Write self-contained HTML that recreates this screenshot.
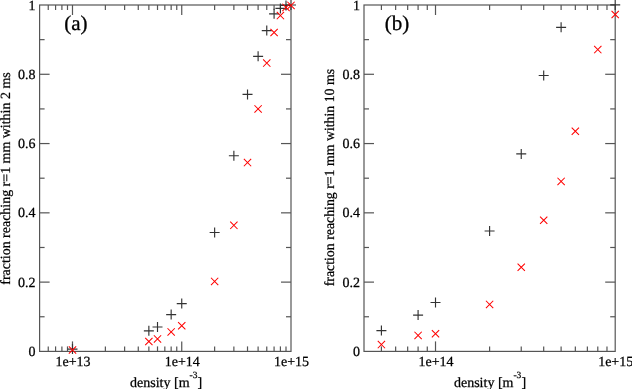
<!DOCTYPE html>
<html><head><meta charset="utf-8"><style>
html,body{margin:0;padding:0;background:#fff;width:632px;height:389px;overflow:hidden}
svg{display:block;will-change:transform;filter:blur(0.3px)}
text{text-rendering:geometricPrecision}
.t{font-family:"Liberation Serif",serif;font-size:14px;fill:#000;stroke:#000;stroke-width:0.25px}
.lab{font-family:"Liberation Serif",serif;font-size:21px;fill:#000;stroke:#000;stroke-width:0.3px}
</style></head><body>
<svg width="632" height="389" viewBox="0 0 632 389">
<rect width="632" height="389" fill="#fff"/>
<rect x="39.6" y="5.0" width="251.40" height="346.40" fill="none" stroke="#555" stroke-width="1.2"/>
<line x1="48.25" y1="351.40" x2="48.25" y2="346.40" stroke="#555" stroke-width="1.2"/>
<line x1="48.25" y1="5.00" x2="48.25" y2="10.00" stroke="#555" stroke-width="1.2"/>
<line x1="55.57" y1="351.40" x2="55.57" y2="346.40" stroke="#555" stroke-width="1.2"/>
<line x1="55.57" y1="5.00" x2="55.57" y2="10.00" stroke="#555" stroke-width="1.2"/>
<line x1="61.90" y1="351.40" x2="61.90" y2="346.40" stroke="#555" stroke-width="1.2"/>
<line x1="61.90" y1="5.00" x2="61.90" y2="10.00" stroke="#555" stroke-width="1.2"/>
<line x1="67.49" y1="351.40" x2="67.49" y2="346.40" stroke="#555" stroke-width="1.2"/>
<line x1="67.49" y1="5.00" x2="67.49" y2="10.00" stroke="#555" stroke-width="1.2"/>
<line x1="72.49" y1="351.40" x2="72.49" y2="341.40" stroke="#555" stroke-width="1.2"/>
<line x1="72.49" y1="5.00" x2="72.49" y2="15.00" stroke="#555" stroke-width="1.2"/>
<line x1="105.38" y1="351.40" x2="105.38" y2="346.40" stroke="#555" stroke-width="1.2"/>
<line x1="105.38" y1="5.00" x2="105.38" y2="10.00" stroke="#555" stroke-width="1.2"/>
<line x1="124.62" y1="351.40" x2="124.62" y2="346.40" stroke="#555" stroke-width="1.2"/>
<line x1="124.62" y1="5.00" x2="124.62" y2="10.00" stroke="#555" stroke-width="1.2"/>
<line x1="138.27" y1="351.40" x2="138.27" y2="346.40" stroke="#555" stroke-width="1.2"/>
<line x1="138.27" y1="5.00" x2="138.27" y2="10.00" stroke="#555" stroke-width="1.2"/>
<line x1="148.86" y1="351.40" x2="148.86" y2="346.40" stroke="#555" stroke-width="1.2"/>
<line x1="148.86" y1="5.00" x2="148.86" y2="10.00" stroke="#555" stroke-width="1.2"/>
<line x1="157.51" y1="351.40" x2="157.51" y2="346.40" stroke="#555" stroke-width="1.2"/>
<line x1="157.51" y1="5.00" x2="157.51" y2="10.00" stroke="#555" stroke-width="1.2"/>
<line x1="164.82" y1="351.40" x2="164.82" y2="346.40" stroke="#555" stroke-width="1.2"/>
<line x1="164.82" y1="5.00" x2="164.82" y2="10.00" stroke="#555" stroke-width="1.2"/>
<line x1="171.16" y1="351.40" x2="171.16" y2="346.40" stroke="#555" stroke-width="1.2"/>
<line x1="171.16" y1="5.00" x2="171.16" y2="10.00" stroke="#555" stroke-width="1.2"/>
<line x1="176.75" y1="351.40" x2="176.75" y2="346.40" stroke="#555" stroke-width="1.2"/>
<line x1="176.75" y1="5.00" x2="176.75" y2="10.00" stroke="#555" stroke-width="1.2"/>
<line x1="181.74" y1="351.40" x2="181.74" y2="341.40" stroke="#555" stroke-width="1.2"/>
<line x1="181.74" y1="5.00" x2="181.74" y2="15.00" stroke="#555" stroke-width="1.2"/>
<line x1="214.63" y1="351.40" x2="214.63" y2="346.40" stroke="#555" stroke-width="1.2"/>
<line x1="214.63" y1="5.00" x2="214.63" y2="10.00" stroke="#555" stroke-width="1.2"/>
<line x1="233.87" y1="351.40" x2="233.87" y2="346.40" stroke="#555" stroke-width="1.2"/>
<line x1="233.87" y1="5.00" x2="233.87" y2="10.00" stroke="#555" stroke-width="1.2"/>
<line x1="247.52" y1="351.40" x2="247.52" y2="346.40" stroke="#555" stroke-width="1.2"/>
<line x1="247.52" y1="5.00" x2="247.52" y2="10.00" stroke="#555" stroke-width="1.2"/>
<line x1="258.11" y1="351.40" x2="258.11" y2="346.40" stroke="#555" stroke-width="1.2"/>
<line x1="258.11" y1="5.00" x2="258.11" y2="10.00" stroke="#555" stroke-width="1.2"/>
<line x1="266.76" y1="351.40" x2="266.76" y2="346.40" stroke="#555" stroke-width="1.2"/>
<line x1="266.76" y1="5.00" x2="266.76" y2="10.00" stroke="#555" stroke-width="1.2"/>
<line x1="274.08" y1="351.40" x2="274.08" y2="346.40" stroke="#555" stroke-width="1.2"/>
<line x1="274.08" y1="5.00" x2="274.08" y2="10.00" stroke="#555" stroke-width="1.2"/>
<line x1="280.41" y1="351.40" x2="280.41" y2="346.40" stroke="#555" stroke-width="1.2"/>
<line x1="280.41" y1="5.00" x2="280.41" y2="10.00" stroke="#555" stroke-width="1.2"/>
<line x1="286.00" y1="351.40" x2="286.00" y2="346.40" stroke="#555" stroke-width="1.2"/>
<line x1="286.00" y1="5.00" x2="286.00" y2="10.00" stroke="#555" stroke-width="1.2"/>
<line x1="39.60" y1="316.76" x2="44.60" y2="316.76" stroke="#555" stroke-width="1.2"/>
<line x1="291.00" y1="316.76" x2="286.00" y2="316.76" stroke="#555" stroke-width="1.2"/>
<line x1="39.60" y1="282.12" x2="49.60" y2="282.12" stroke="#555" stroke-width="1.2"/>
<line x1="291.00" y1="282.12" x2="281.00" y2="282.12" stroke="#555" stroke-width="1.2"/>
<line x1="39.60" y1="247.48" x2="44.60" y2="247.48" stroke="#555" stroke-width="1.2"/>
<line x1="291.00" y1="247.48" x2="286.00" y2="247.48" stroke="#555" stroke-width="1.2"/>
<line x1="39.60" y1="212.84" x2="49.60" y2="212.84" stroke="#555" stroke-width="1.2"/>
<line x1="291.00" y1="212.84" x2="281.00" y2="212.84" stroke="#555" stroke-width="1.2"/>
<line x1="39.60" y1="178.20" x2="44.60" y2="178.20" stroke="#555" stroke-width="1.2"/>
<line x1="291.00" y1="178.20" x2="286.00" y2="178.20" stroke="#555" stroke-width="1.2"/>
<line x1="39.60" y1="143.56" x2="49.60" y2="143.56" stroke="#555" stroke-width="1.2"/>
<line x1="291.00" y1="143.56" x2="281.00" y2="143.56" stroke="#555" stroke-width="1.2"/>
<line x1="39.60" y1="108.92" x2="44.60" y2="108.92" stroke="#555" stroke-width="1.2"/>
<line x1="291.00" y1="108.92" x2="286.00" y2="108.92" stroke="#555" stroke-width="1.2"/>
<line x1="39.60" y1="74.28" x2="49.60" y2="74.28" stroke="#555" stroke-width="1.2"/>
<line x1="291.00" y1="74.28" x2="281.00" y2="74.28" stroke="#555" stroke-width="1.2"/>
<line x1="39.60" y1="39.64" x2="44.60" y2="39.64" stroke="#555" stroke-width="1.2"/>
<line x1="291.00" y1="39.64" x2="286.00" y2="39.64" stroke="#555" stroke-width="1.2"/>
<text x="35.60" y="355.90" text-anchor="end" class="t">0</text>
<text x="35.60" y="286.62" text-anchor="end" class="t">0.2</text>
<text x="35.60" y="217.34" text-anchor="end" class="t">0.4</text>
<text x="35.60" y="148.06" text-anchor="end" class="t">0.6</text>
<text x="35.60" y="78.78" text-anchor="end" class="t">0.8</text>
<text x="35.60" y="9.50" text-anchor="end" class="t">1</text>
<text x="72.99" y="365.90" text-anchor="middle" class="t">1e+13</text>
<text x="182.24" y="365.90" text-anchor="middle" class="t">1e+14</text>
<text x="291.50" y="365.90" text-anchor="middle" class="t">1e+15</text>
<text x="166.10" y="386.5" text-anchor="middle" class="t">density [m<tspan dy="-9" font-size="9.5">-3</tspan><tspan dy="9">]</tspan></text>
<text transform="translate(9.80,178.55) rotate(-90)" text-anchor="middle" textLength="212.4" lengthAdjust="spacingAndGlyphs" class="t">fraction reaching r=1 mm within 2 ms</text>
<text x="64.30" y="29.9" class="lab">(a)</text>
<rect x="364.0" y="5.0" width="251.20" height="346.40" fill="none" stroke="#555" stroke-width="1.2"/>
<line x1="381.41" y1="351.40" x2="381.41" y2="346.40" stroke="#555" stroke-width="1.2"/>
<line x1="381.41" y1="5.00" x2="381.41" y2="10.00" stroke="#555" stroke-width="1.2"/>
<line x1="395.64" y1="351.40" x2="395.64" y2="346.40" stroke="#555" stroke-width="1.2"/>
<line x1="395.64" y1="5.00" x2="395.64" y2="10.00" stroke="#555" stroke-width="1.2"/>
<line x1="407.67" y1="351.40" x2="407.67" y2="346.40" stroke="#555" stroke-width="1.2"/>
<line x1="407.67" y1="5.00" x2="407.67" y2="10.00" stroke="#555" stroke-width="1.2"/>
<line x1="418.09" y1="351.40" x2="418.09" y2="346.40" stroke="#555" stroke-width="1.2"/>
<line x1="418.09" y1="5.00" x2="418.09" y2="10.00" stroke="#555" stroke-width="1.2"/>
<line x1="427.28" y1="351.40" x2="427.28" y2="346.40" stroke="#555" stroke-width="1.2"/>
<line x1="427.28" y1="5.00" x2="427.28" y2="10.00" stroke="#555" stroke-width="1.2"/>
<line x1="435.51" y1="351.40" x2="435.51" y2="341.40" stroke="#555" stroke-width="1.2"/>
<line x1="435.51" y1="5.00" x2="435.51" y2="15.00" stroke="#555" stroke-width="1.2"/>
<line x1="489.60" y1="351.40" x2="489.60" y2="346.40" stroke="#555" stroke-width="1.2"/>
<line x1="489.60" y1="5.00" x2="489.60" y2="10.00" stroke="#555" stroke-width="1.2"/>
<line x1="521.24" y1="351.40" x2="521.24" y2="346.40" stroke="#555" stroke-width="1.2"/>
<line x1="521.24" y1="5.00" x2="521.24" y2="10.00" stroke="#555" stroke-width="1.2"/>
<line x1="543.69" y1="351.40" x2="543.69" y2="346.40" stroke="#555" stroke-width="1.2"/>
<line x1="543.69" y1="5.00" x2="543.69" y2="10.00" stroke="#555" stroke-width="1.2"/>
<line x1="561.11" y1="351.40" x2="561.11" y2="346.40" stroke="#555" stroke-width="1.2"/>
<line x1="561.11" y1="5.00" x2="561.11" y2="10.00" stroke="#555" stroke-width="1.2"/>
<line x1="575.34" y1="351.40" x2="575.34" y2="346.40" stroke="#555" stroke-width="1.2"/>
<line x1="575.34" y1="5.00" x2="575.34" y2="10.00" stroke="#555" stroke-width="1.2"/>
<line x1="587.37" y1="351.40" x2="587.37" y2="346.40" stroke="#555" stroke-width="1.2"/>
<line x1="587.37" y1="5.00" x2="587.37" y2="10.00" stroke="#555" stroke-width="1.2"/>
<line x1="597.79" y1="351.40" x2="597.79" y2="346.40" stroke="#555" stroke-width="1.2"/>
<line x1="597.79" y1="5.00" x2="597.79" y2="10.00" stroke="#555" stroke-width="1.2"/>
<line x1="606.98" y1="351.40" x2="606.98" y2="346.40" stroke="#555" stroke-width="1.2"/>
<line x1="606.98" y1="5.00" x2="606.98" y2="10.00" stroke="#555" stroke-width="1.2"/>
<line x1="364.00" y1="316.76" x2="369.00" y2="316.76" stroke="#555" stroke-width="1.2"/>
<line x1="615.20" y1="316.76" x2="610.20" y2="316.76" stroke="#555" stroke-width="1.2"/>
<line x1="364.00" y1="282.12" x2="374.00" y2="282.12" stroke="#555" stroke-width="1.2"/>
<line x1="615.20" y1="282.12" x2="605.20" y2="282.12" stroke="#555" stroke-width="1.2"/>
<line x1="364.00" y1="247.48" x2="369.00" y2="247.48" stroke="#555" stroke-width="1.2"/>
<line x1="615.20" y1="247.48" x2="610.20" y2="247.48" stroke="#555" stroke-width="1.2"/>
<line x1="364.00" y1="212.84" x2="374.00" y2="212.84" stroke="#555" stroke-width="1.2"/>
<line x1="615.20" y1="212.84" x2="605.20" y2="212.84" stroke="#555" stroke-width="1.2"/>
<line x1="364.00" y1="178.20" x2="369.00" y2="178.20" stroke="#555" stroke-width="1.2"/>
<line x1="615.20" y1="178.20" x2="610.20" y2="178.20" stroke="#555" stroke-width="1.2"/>
<line x1="364.00" y1="143.56" x2="374.00" y2="143.56" stroke="#555" stroke-width="1.2"/>
<line x1="615.20" y1="143.56" x2="605.20" y2="143.56" stroke="#555" stroke-width="1.2"/>
<line x1="364.00" y1="108.92" x2="369.00" y2="108.92" stroke="#555" stroke-width="1.2"/>
<line x1="615.20" y1="108.92" x2="610.20" y2="108.92" stroke="#555" stroke-width="1.2"/>
<line x1="364.00" y1="74.28" x2="374.00" y2="74.28" stroke="#555" stroke-width="1.2"/>
<line x1="615.20" y1="74.28" x2="605.20" y2="74.28" stroke="#555" stroke-width="1.2"/>
<line x1="364.00" y1="39.64" x2="369.00" y2="39.64" stroke="#555" stroke-width="1.2"/>
<line x1="615.20" y1="39.64" x2="610.20" y2="39.64" stroke="#555" stroke-width="1.2"/>
<text x="360.00" y="355.90" text-anchor="end" class="t">0</text>
<text x="360.00" y="286.62" text-anchor="end" class="t">0.2</text>
<text x="360.00" y="217.34" text-anchor="end" class="t">0.4</text>
<text x="360.00" y="148.06" text-anchor="end" class="t">0.6</text>
<text x="360.00" y="78.78" text-anchor="end" class="t">0.8</text>
<text x="360.00" y="9.50" text-anchor="end" class="t">1</text>
<text x="436.01" y="365.90" text-anchor="middle" class="t">1e+14</text>
<text x="615.70" y="365.90" text-anchor="middle" class="t">1e+15</text>
<text x="490.00" y="386.5" text-anchor="middle" class="t">density [m<tspan dy="-9" font-size="9.5">-3</tspan><tspan dy="9">]</tspan></text>
<text transform="translate(334.20,177.60) rotate(-90)" text-anchor="middle" textLength="217.4" lengthAdjust="spacingAndGlyphs" class="t">fraction reaching r=1 mm within 10 ms</text>
<text x="384.80" y="29.9" class="lab">(b)</text>
<path d="M143.86 330.80H153.86M148.86 325.80V335.80" stroke="#333" stroke-width="1.15" fill="none"/>
<path d="M152.51 327.00H162.51M157.51 322.00V332.00" stroke="#333" stroke-width="1.15" fill="none"/>
<path d="M166.16 314.60H176.16M171.16 309.60V319.60" stroke="#333" stroke-width="1.15" fill="none"/>
<path d="M176.74 303.60H186.74M181.74 298.60V308.60" stroke="#333" stroke-width="1.15" fill="none"/>
<path d="M209.63 232.50H219.63M214.63 227.50V237.50" stroke="#333" stroke-width="1.15" fill="none"/>
<path d="M228.87 155.70H238.87M233.87 150.70V160.70" stroke="#333" stroke-width="1.15" fill="none"/>
<path d="M242.52 94.40H252.52M247.52 89.40V99.40" stroke="#333" stroke-width="1.15" fill="none"/>
<path d="M253.11 56.30H263.11M258.11 51.30V61.30" stroke="#333" stroke-width="1.15" fill="none"/>
<path d="M261.76 30.60H271.76M266.76 25.60V35.60" stroke="#333" stroke-width="1.15" fill="none"/>
<path d="M269.08 13.80H279.08M274.08 8.80V18.80" stroke="#333" stroke-width="1.15" fill="none"/>
<path d="M275.41 8.40H285.41M280.41 3.40V13.40" stroke="#333" stroke-width="1.15" fill="none"/>
<path d="M281.00 5.40H291.00M286.00 0.40V10.40" stroke="#333" stroke-width="1.15" fill="none"/>
<path d="M286.00 5.00H296.00M291.00 0.00V10.00" stroke="#333" stroke-width="1.15" fill="none"/>
<path d="M67.49 349.10H77.49M72.49 344.10V354.10" stroke="#333" stroke-width="1.15" fill="none"/>
<path d="M376.41 330.60H386.41M381.41 325.60V335.60" stroke="#333" stroke-width="1.15" fill="none"/>
<path d="M413.09 315.10H423.09M418.09 310.10V320.10" stroke="#333" stroke-width="1.15" fill="none"/>
<path d="M430.51 302.50H440.51M435.51 297.50V307.50" stroke="#333" stroke-width="1.15" fill="none"/>
<path d="M484.60 231.00H494.60M489.60 226.00V236.00" stroke="#333" stroke-width="1.15" fill="none"/>
<path d="M516.24 153.90H526.24M521.24 148.90V158.90" stroke="#333" stroke-width="1.15" fill="none"/>
<path d="M538.69 75.50H548.69M543.69 70.50V80.50" stroke="#333" stroke-width="1.15" fill="none"/>
<path d="M556.11 27.35H566.11M561.11 22.35V32.35" stroke="#333" stroke-width="1.15" fill="none"/>
<path d="M610.20 4.90H620.20M615.20 -0.10V9.90" stroke="#333" stroke-width="1.15" fill="none"/>
<path d="M145.21 337.85L152.51 345.15M145.21 345.15L152.51 337.85" stroke="#ff0000" stroke-width="1.05" fill="none"/>
<path d="M153.86 335.25L161.16 342.55M153.86 342.55L161.16 335.25" stroke="#ff0000" stroke-width="1.05" fill="none"/>
<path d="M167.51 328.25L174.81 335.55M167.51 335.55L174.81 328.25" stroke="#ff0000" stroke-width="1.05" fill="none"/>
<path d="M178.09 322.05L185.39 329.35M178.09 329.35L185.39 322.05" stroke="#ff0000" stroke-width="1.05" fill="none"/>
<path d="M210.98 277.75L218.28 285.05M210.98 285.05L218.28 277.75" stroke="#ff0000" stroke-width="1.05" fill="none"/>
<path d="M230.22 221.70L237.52 229.00M230.22 229.00L237.52 221.70" stroke="#ff0000" stroke-width="1.05" fill="none"/>
<path d="M243.87 158.95L251.17 166.25M243.87 166.25L251.17 158.95" stroke="#ff0000" stroke-width="1.05" fill="none"/>
<path d="M254.46 105.25L261.76 112.55M254.46 112.55L261.76 105.25" stroke="#ff0000" stroke-width="1.05" fill="none"/>
<path d="M263.11 59.45L270.41 66.75M263.11 66.75L270.41 59.45" stroke="#ff0000" stroke-width="1.05" fill="none"/>
<path d="M270.43 28.85L277.73 36.15M270.43 36.15L277.73 28.85" stroke="#ff0000" stroke-width="1.05" fill="none"/>
<path d="M276.76 11.95L284.06 19.25M276.76 19.25L284.06 11.95" stroke="#ff0000" stroke-width="1.05" fill="none"/>
<path d="M282.35 3.75L289.65 11.05M282.35 11.05L289.65 3.75" stroke="#ff0000" stroke-width="1.05" fill="none"/>
<path d="M287.35 1.75L294.65 9.05M287.35 9.05L294.65 1.75" stroke="#ff0000" stroke-width="1.05" fill="none"/>
<path d="M68.84 346.35L76.14 353.65M68.84 353.65L76.14 346.35" stroke="#ff0000" stroke-width="1.05" fill="none"/>
<path d="M377.76 340.95L385.06 348.25M377.76 348.25L385.06 340.95" stroke="#ff0000" stroke-width="1.05" fill="none"/>
<path d="M414.44 331.75L421.74 339.05M414.44 339.05L421.74 331.75" stroke="#ff0000" stroke-width="1.05" fill="none"/>
<path d="M431.86 330.15L439.16 337.45M431.86 337.45L439.16 330.15" stroke="#ff0000" stroke-width="1.05" fill="none"/>
<path d="M485.95 300.75L493.25 308.05M485.95 308.05L493.25 300.75" stroke="#ff0000" stroke-width="1.05" fill="none"/>
<path d="M517.59 263.65L524.89 270.95M517.59 270.95L524.89 263.65" stroke="#ff0000" stroke-width="1.05" fill="none"/>
<path d="M540.04 216.65L547.34 223.95M540.04 223.95L547.34 216.65" stroke="#ff0000" stroke-width="1.05" fill="none"/>
<path d="M557.46 177.75L564.76 185.05M557.46 185.05L564.76 177.75" stroke="#ff0000" stroke-width="1.05" fill="none"/>
<path d="M571.69 127.65L578.99 134.95M571.69 134.95L578.99 127.65" stroke="#ff0000" stroke-width="1.05" fill="none"/>
<path d="M594.14 45.95L601.44 53.25M594.14 53.25L601.44 45.95" stroke="#ff0000" stroke-width="1.05" fill="none"/>
<path d="M611.55 10.85L618.85 18.15M611.55 18.15L618.85 10.85" stroke="#ff0000" stroke-width="1.05" fill="none"/>
</svg></body></html>
